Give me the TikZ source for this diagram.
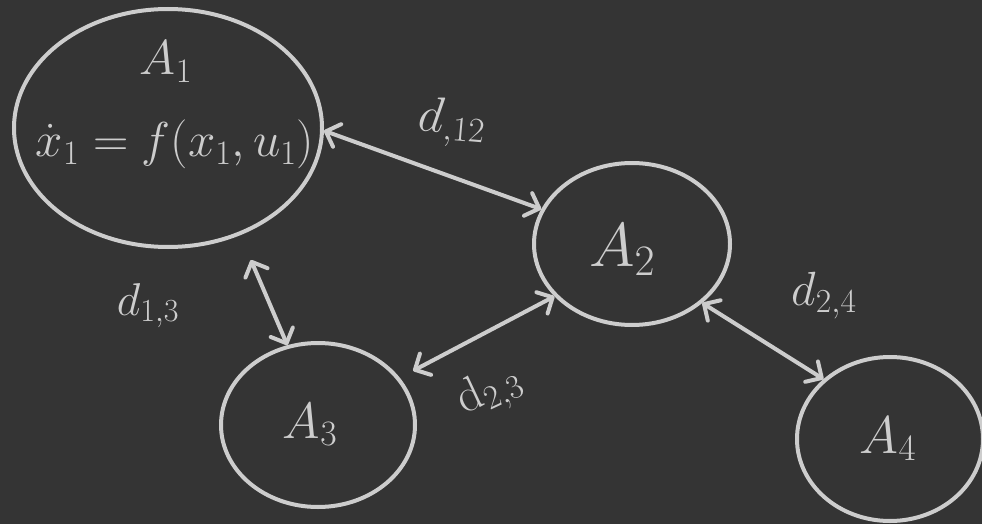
\RequirePackage{fix-cm}
\documentclass[tikz,border=0pt]{standalone}
\usetikzlibrary{arrows.meta,shapes.geometric}
\definecolor{board}{RGB}{52,52,52}
\definecolor{chalk}{RGB}{205,205,205}
\begin{document}
\begin{tikzpicture}[x=1pt,y=-1pt,
  agent/.style={draw=chalk,line width=4pt,ellipse,inner sep=0pt},
  lab/.style={text=chalk,inner sep=0pt,anchor=base},
  link/.style={draw=chalk,line width=4pt,line cap=round,
    {Straight Barb[length=12pt,width=24pt,round]}-{Straight Barb[length=12pt,width=24pt,round]}}]
\fill[board] (0,0) rectangle (982,524);
\useasboundingbox (0,0) rectangle (982,524);
% agents
\node[agent,minimum width=308pt,minimum height=238pt] (a1) at (168,128) {};
\node[agent,minimum width=196pt,minimum height=162pt] (a2) at (632,244) {};
\node[agent,minimum width=194pt,minimum height=164pt] (a3) at (318,425) {};
\node[agent,minimum width=186pt,minimum height=164pt] (a4) at (890,439) {};
% texts
\node[lab,font=\fontsize{49}{52}\selectfont] (t1) at (166,75) {$A_1$};
\node[lab,font=\fontsize{49}{52}\selectfont] (e1) at (175,157) {$\dot{x}_1=f(x_1,u_1)$};
\node[lab,font=\fontsize{62}{66}\selectfont] (t2) at (622,266) {$A_2$};
\node[lab,font=\fontsize{51}{55}\selectfont] (t3) at (310,438) {$A_3$};
\node[lab,font=\fontsize{53}{57}\selectfont] (t4) at (888,453) {$A_4$};
% connectors
\draw[link] (a1.-1) -- (a2.159);
\draw[link,shorten <=27pt] (a1.-56) -- (a3.111);
\draw[link,shorten <=15pt] (a3.30) -- (a2.214);
\draw[link] (a2.-40) -- (a4.138);
% distance labels
\node[lab,font=\fontsize{50}{54}\selectfont,rotate=-5] (d12) at (451,133) {$d_{,12}$};
\node[lab,font=\fontsize{46}{50}\selectfont] (d13) at (148,315) {$d_{1,3}$};
\node[lab,font=\fontsize{48}{52}\selectfont] (d24) at (824,305) {$d_{2,4}$};
\node[text=chalk,inner sep=0pt,font=\fontsize{48}{52}\selectfont,rotate=25] (d23) at (490,392) {$\mathrm{d}_{2,3}$};
\end{tikzpicture}
\end{document}
